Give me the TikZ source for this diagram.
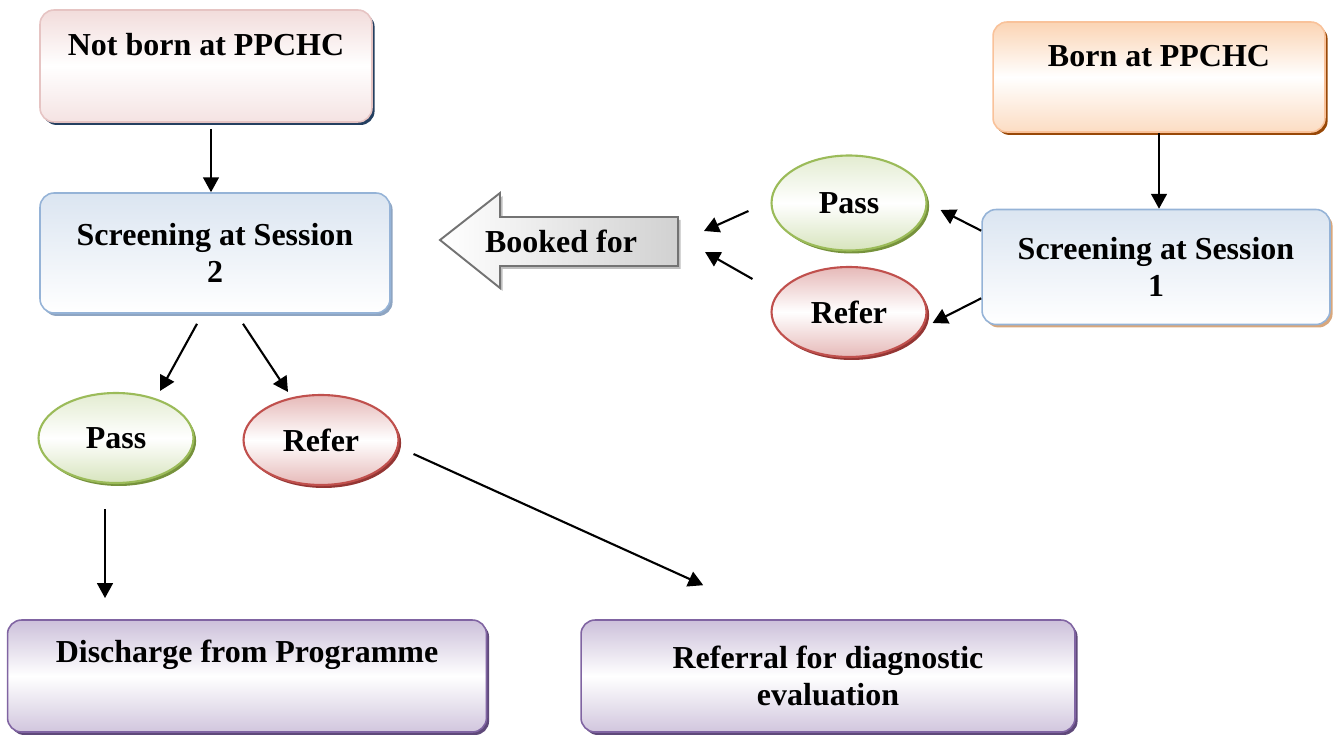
\documentclass[tikz,border=0pt]{standalone}
\usepackage{fontspec}
\setmainfont{Liberation Serif}
\usetikzlibrary{shapes.geometric,shadows,calc,arrows.meta}

\definecolor{pinkT}{HTML}{F2DCDB}
\definecolor{pinkD}{HTML}{E6C4C3}
\definecolor{navyS}{HTML}{243F60}
\definecolor{orangeT}{HTML}{FBD4B4}
\definecolor{orangeD}{HTML}{F9C29A}
\definecolor{brownS}{HTML}{984807}
\definecolor{blueT}{HTML}{DBE5F1}
\definecolor{blueD}{HTML}{95B3D7}
\definecolor{blueS}{HTML}{8EA5C2}
\definecolor{tanS}{HTML}{D8A77C}
\definecolor{greenT}{HTML}{D7E4BD}
\definecolor{greenD}{HTML}{9BBB59}
\definecolor{greenS}{HTML}{76923C}
\definecolor{redT}{HTML}{E6B9B8}
\definecolor{redD}{HTML}{C0504D}
\definecolor{redS}{HTML}{943634}
\definecolor{purpT}{HTML}{CCC0DA}
\definecolor{purpD}{HTML}{8064A2}
\definecolor{purpS}{HTML}{5F497A}

\begin{document}
\begin{tikzpicture}
      [%%%%%%%%%%%%%%%%%%%%%%%%%%%%%%
      x=0.02cm,y=-0.02cm,
      txt/.style={font=\bfseries\fontsize{18.2}{21}\selectfont, align=center, inner sep=0pt},
      box/.style={rectangle, rounded corners=8pt, line width=0.9pt, txt},
      oval/.style={ellipse, line width=1.2pt, minimum width=3.1cm, minimum height=1.8cm, txt},
      shad/.style={drop shadow={shadow xshift=1.5pt,shadow yshift=-1.7pt,fill=#1,opacity=1}},
      pinkbox/.style={box, draw=pinkD, top color=pinkT, bottom color=pinkT!80, middle color=white, shad=navyS},
      orangebox/.style={box, draw=orangeD, top color=orangeT, bottom color=orangeT!80, middle color=white, shad=brownS},
      bluebox/.style={box, draw=blueD, top color=blueT, bottom color=white, shad=#1},
      purpbox/.style={box, draw=purpD, top color=purpT, bottom color=purpT!90, middle color=white, shad=purpS},
      passoval/.style={oval, draw=greenD, top color=greenT!70, bottom color=greenT, middle color=white, shad=greenS},
      referoval/.style={oval, draw=redD, top color=redT, bottom color=redT, middle color=white, shad=redS},
      bookarrow/.style={draw=black!55, line width=1.1pt, left color=white, right color=black!18, shad=black!25},
      arr/.style={-{Triangle[length=8.5pt,width=9pt]}, line width=1.2pt},
      ]%%%%%%%%%%%%%%%%%%%%%%%%%%%%%%
      \useasboundingbox (0,0) rectangle (1338,736);

      % left column: not born at PPCHC
      \node[pinkbox, minimum width=6.64cm, minimum height=2.24cm] (notborn) at (206,66){};
      \node[txt] (notbornT) at ($(notborn.north)+(0,35)$) {Not born at PPCHC};
      \node[bluebox=blueS, minimum width=7.0cm, minimum height=2.4cm] (scr2) at (215,253){Screening at Session\\2};
      \node[passoval] (passL) at (116,438){Pass};
      \node[referoval] (referL) at (321,440){Refer};
      \node[purpbox, minimum width=9.58cm, minimum height=2.24cm] (discharge) at (247,676){};
      \node[txt] (dischargeT) at ($(discharge.north)+(0,36)$) {Discharge from Programme};
      \node[purpbox, minimum width=9.88cm, minimum height=2.24cm] (referral) at (828,676){Referral for diagnostic\\evaluation};

      % right column: born at PPCHC
      \node[orangebox, minimum width=6.64cm, minimum height=2.2cm] (born) at (1159,77){};
      \node[txt] (bornT) at ($(born.north)+(0,35)$) {Born at PPCHC};
      \node[bluebox=tanS, minimum width=6.96cm, minimum height=2.3cm] (scr1) at (1156,267){Screening at Session\\1};
      \node[passoval, minimum height=1.9cm] (passR) at (849,203){Pass};
      \node[referoval] (referR) at (849,312){Refer};

      % booked for
      \draw[bookarrow] (440,240) -- (500,193) -- (500,217) -- (678,217) -- (678,266) -- (500,266) -- (500,288) -- cycle;
      \node[txt] (booked) at (561,241){Booked for};
      \coordinate (booktail) at (680,241);

      \draw[arr] ($(notborn.south)+(5,6)$) -- ($(scr2.north)+(-4,0)$);
      \draw[arr] (born.south) -- (born.south |- scr1.north);
      \draw[arr] ($(scr1.north west)+(0,22)$) -- ($(passR.east)+(13,7)$);
      \draw[arr] ($(scr1.south west)+(0,-27)$) -- ($(referR.east)+(5,11)$);
      \draw[arr] ($(passR.west)+(-22,8)$) -- ($(booktail)+(24,-10)$);
      \draw[arr] ($(referR.west)+(-18,-33)$) -- ($(booktail)+(25,11)$);
      \draw[arr] ($(scr2.south)+(-18,10)$) -- ($(passL.north)+(44,-1)$);
      \draw[arr] ($(scr2.south)+(28,10)$) -- ($(referL.north)+(-33,-2)$);
      \draw[arr] ($(passL.south)+(-11,25)$) -- ++(0,89);
      \draw[arr] ($(referL.east)+(14,14)$) -- ($(referral.north west)+(123,-34)$);
    \end{tikzpicture}
\end{document}
